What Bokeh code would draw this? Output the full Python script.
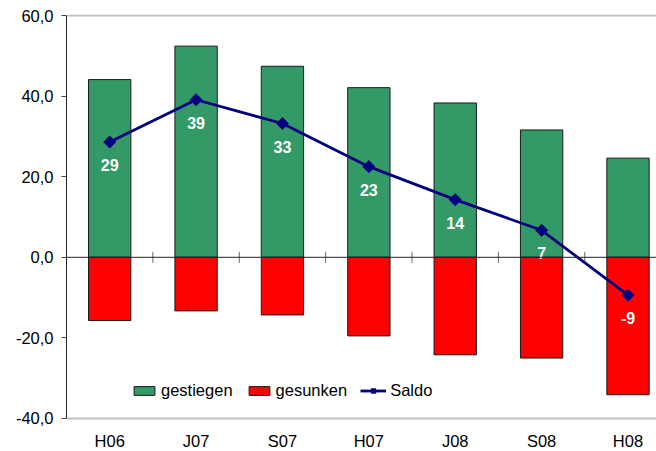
import math
from bokeh.plotting import figure
from bokeh.models import Range1d, FixedTicker, Span, Legend, LegendItem, ColumnDataSource
from bokeh.core.properties import value
from bokeh.embed import file_html
from bokeh.resources import INLINE

categories = ["H06", "J07", "S07", "H07", "J08", "S08", "H08"]
gestiegen = [44.1, 52.4, 47.4, 42.1, 38.3, 31.6, 24.6]
gesunken = [-15.7, -13.3, -14.3, -19.5, -24.2, -25.0, -34.1]
saldo = [28.6, 39.1, 33.2, 22.5, 14.3, 6.7, -9.4]
saldo_labels = ["29", "39", "33", "23", "14", "7", "-9"]
y_ticks = [-40, -20, 0, 20, 40, 60]
y_tick_labels = ["-40,0", "-20,0", "0,0", "20,0", "40,0", "60,0"]

FONT = "Liberation Sans"
n = len(categories)
xc = [i + 0.5 for i in range(n)]
ymin, ymax = y_ticks[0], y_ticks[-1]

# plot frame extends to the bottom edge; the space below -40 holds the category labels
p = figure(width=656, height=451, output_backend="svg", toolbar_location=None,
           x_range=Range1d(0, 6.83), y_range=Range1d(-48.19, 60.25),
           min_border_left=66, min_border_right=0, min_border_top=14, min_border_bottom=0)
p.outline_line_color = None
p.background_fill_color = "white"
p.border_fill_color = "white"

p.xgrid.visible = False
# light grey lines at top and bottom of plot area
p.ygrid.ticker = FixedTicker(ticks=[ymin, ymax])
p.ygrid.grid_line_color = "#c0c0c0"
p.ygrid.grid_line_width = 2

# y axis
p.yaxis.ticker = FixedTicker(ticks=y_ticks)
p.yaxis.bounds = (ymin, ymax)
p.yaxis.major_label_overrides = {t: l for t, l in zip(y_ticks, y_tick_labels)}
p.yaxis.axis_line_color = "#222222"
p.yaxis.major_tick_line_color = "#444444"
p.yaxis.major_tick_out = 5
p.yaxis.major_tick_in = 0
p.yaxis.minor_tick_line_color = None
p.yaxis.major_label_standoff = 8
p.yaxis.major_label_text_font = FONT
p.yaxis.major_label_text_font_size = "16.5px"
p.yaxis.major_label_text_color = "black"

# category labels below the -40 line
p.xaxis.visible = False
p.text(x=xc, y=[ymin] * n, text=categories, y_offset=14,
       text_align="center", text_baseline="top", text_font=value(FONT),
       text_font_size="16.5px", text_color="black")

src = ColumnDataSource(dict(x=xc, up=gestiegen, down=gesunken, saldo=saldo, lab=saldo_labels))

r_up = p.vbar(x="x", top="up", bottom=0, width=0.49, source=src,
              fill_color="#339966", line_color="#1a1a1a", line_width=1)
r_down = p.vbar(x="x", top=0, bottom="down", width=0.49, source=src,
                fill_color="#FF0000", line_color="#1a1a1a", line_width=1)

# zero line with category boundary ticks
p.add_layout(Span(location=0, dimension="width", line_color="#222222", line_width=1))
p.scatter(x=list(range(1, n)), y=[0] * (n - 1), marker="dash", angle=math.pi / 2,
          size=11, line_color="#666666", line_width=1)

r_line = p.line(x="x", y="saldo", source=src, line_color="#000080", line_width=2.8)
r_pts = p.scatter(x="x", y="saldo", source=src, marker="square", angle=math.pi / 4,
                  size=8.5, fill_color="#000080", line_color="#000080")

p.text(x="x", y="saldo", text="lab", source=src, text_color="white",
       text_font=value(FONT), text_font_size="16px", text_font_style="bold",
       text_align="center", text_baseline="middle", y_offset=23)

legend = Legend(items=[
    LegendItem(label="gestiegen", renderers=[r_up]),
    LegendItem(label="gesunken", renderers=[r_down]),
    LegendItem(label="Saldo", renderers=[r_line, r_pts]),
], location=(65, 51), orientation="horizontal")
legend.border_line_color = None
legend.background_fill_alpha = 0
legend.padding = 0
legend.margin = 0
legend.spacing = 13
legend.glyph_width = 26
legend.glyph_height = 11
legend.label_standoff = 4
legend.label_text_font = FONT
legend.label_text_font_size = "16.5px"
legend.label_text_color = "black"
p.add_layout(legend)

open("out.html", "w").write(file_html(p, INLINE))
